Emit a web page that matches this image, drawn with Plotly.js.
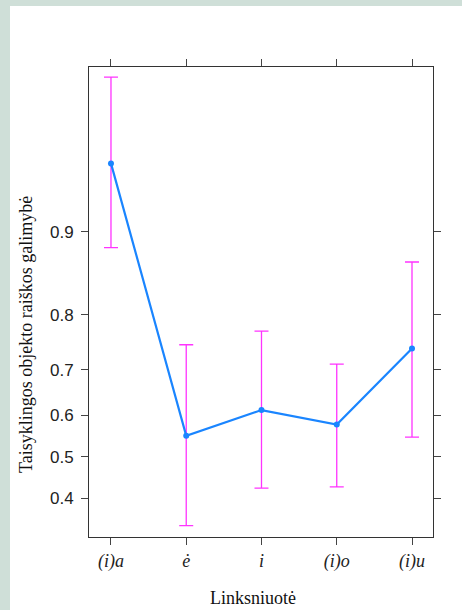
<!DOCTYPE html>
<html>
<head>
<meta charset="utf-8">
<script src="https://cdn.plot.ly/plotly-3.0.1.min.js"></script>
<style>
  html, body { margin: 0; padding: 0; width: 462px; height: 610px; background: #cfdfd8; overflow: hidden; }
  #chart { position: absolute; left: 10px; top: 6px; width: 452px; height: 604px; background: #fff; }
</style>
</head>
<body>
<div id="chart"></div>
<script>
// Data (probabilities)
const categories = ['(i)a', 'ė', 'i', '(i)o', '(i)u'];
const estimate   = [0.946, 0.551, 0.612, 0.578, 0.742];
const lower      = [0.885, 0.338, 0.424, 0.427, 0.548];
const upper      = [0.976, 0.749, 0.773, 0.712, 0.870];
const yTickVals  = [0.4, 0.5, 0.6, 0.7, 0.8, 0.9];
const yTickText  = ['0.4', '0.5', '0.6', '0.7', '0.8', '0.9'];
const yTitle = 'Taisyklingos objekto raiškos galimybė';
const xTitle = 'Linksniuotė';

// logit scale for the y axis
const logit = p => Math.log(p / (1 - p));
const yEst = estimate.map(logit);
const errPlus = upper.map((u, i) => logit(u) - yEst[i]);
const errMinus = lower.map((l, i) => yEst[i] - logit(l));

const errTrace = {
  x: categories, y: yEst, type: 'scatter', mode: 'markers',
  marker: { opacity: 0, size: 1 },
  error_y: { type: 'data', array: errPlus, arrayminus: errMinus, symmetric: false,
             color: '#ff33ff', thickness: 1.3, width: 7 },
  hoverinfo: 'skip', showlegend: false
};
const lineTrace = {
  x: categories, y: yEst, type: 'scatter', mode: 'lines+markers',
  line: { color: '#1a85ff', width: 2.2 },
  marker: { color: '#1a85ff', size: 6, symbol: 'circle' },
  showlegend: false
};

const axisCommon = {
  showline: true, linecolor: '#333', linewidth: 1, mirror: 'allticks',
  ticks: 'outside', ticklen: 7, tickcolor: '#444', tickwidth: 1,
  showgrid: false, zeroline: false, fixedrange: true
};

const layout = {
  width: 452, height: 604,
  paper_bgcolor: '#ffffff', plot_bgcolor: '#ffffff',
  margin: { l: 79, r: 29, t: 61, b: 73 },
  xaxis: Object.assign({}, axisCommon, {
    type: 'category', range: [-0.292, 4.279],
    tickvals: categories, ticktext: categories.map(c => '<i>' + c + '</i>'),
    tickfont: { family: 'Liberation Serif, Times New Roman, serif', size: 18, color: '#222' }
  }),
  yaxis: Object.assign({}, axisCommon, {
    range: [-0.783, 3.804],
    tickvals: yTickVals.map(logit), ticktext: yTickText,
    ticklabelstandoff: 4,
    tickfont: { family: 'Liberation Sans, Arial, sans-serif', size: 17, color: '#222' }
  }),
  annotations: [
    { text: yTitle, xref: 'paper', yref: 'paper', x: -0.183, y: 0.43,
      textangle: -90, showarrow: false, xanchor: 'center', yanchor: 'middle',
      font: { family: 'Liberation Serif, Times New Roman, serif', size: 18, color: '#111' } },
    { text: xTitle, xref: 'paper', yref: 'paper', x: 0.477, y: -0.13,
      showarrow: false, xanchor: 'center', yanchor: 'middle',
      font: { family: 'Liberation Serif, Times New Roman, serif', size: 18, color: '#111' } }
  ]
};

Plotly.newPlot('chart', [errTrace, lineTrace], layout, { displayModeBar: false, staticPlot: true });
</script>
</body>
</html>
